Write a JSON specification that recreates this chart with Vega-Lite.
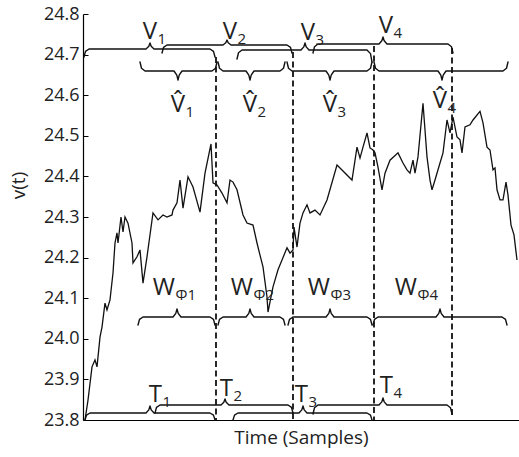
{
  "$schema": "https://vega.github.io/schema/vega-lite/v6.json",
  "width": 436,
  "height": 406,
  "autosize": {"type": "none"},
  "padding": {"left": 83, "top": 14, "right": 0, "bottom": 37},
  "background": "white",
  "config": {
    "view": {"stroke": null},
    "font": "Open Sans",
    "axis": {"grid": false}
  },
  "datasets": {
    "series": [
      {"t":2,"v":23.800},{"t":5,"v":23.849},{"t":9,"v":23.931},{"t":12,"v":23.948},{"t":14,"v":23.931},{"t":17,"v":24.004},{"t":19,"v":24.029},{"t":22,"v":24.088},{"t":24,"v":24.071},{"t":27,"v":24.096},{"t":30,"v":24.162},{"t":32,"v":24.236},{"t":34,"v":24.261},{"t":35,"v":24.236},{"t":38,"v":24.300},{"t":40,"v":24.263},{"t":42,"v":24.300},{"t":45,"v":24.285},{"t":49,"v":24.236},{"t":50,"v":24.187},{"t":54,"v":24.202},{"t":57,"v":24.219},{"t":60,"v":24.137},{"t":64,"v":24.202},{"t":70,"v":24.310},{"t":75,"v":24.293},{"t":80,"v":24.305},{"t":84,"v":24.300},{"t":89,"v":24.305},{"t":90,"v":24.317},{"t":94,"v":24.335},{"t":97,"v":24.391},{"t":100,"v":24.322},{"t":105,"v":24.399},{"t":110,"v":24.374},{"t":117,"v":24.312},{"t":122,"v":24.408},{"t":128,"v":24.480},{"t":130,"v":24.384},{"t":134,"v":24.379},{"t":139,"v":24.359},{"t":144,"v":24.335},{"t":147,"v":24.391},{"t":150,"v":24.386},{"t":154,"v":24.367},{"t":160,"v":24.305},{"t":164,"v":24.285},{"t":170,"v":24.280},{"t":174,"v":24.236},{"t":177,"v":24.206},{"t":180,"v":24.177},{"t":184,"v":24.103},{"t":185,"v":24.066},{"t":190,"v":24.128},{"t":195,"v":24.170},{"t":199,"v":24.194},{"t":204,"v":24.224},{"t":207,"v":24.211},{"t":210,"v":24.219},{"t":211,"v":24.275},{"t":214,"v":24.226},{"t":217,"v":24.285},{"t":220,"v":24.310},{"t":224,"v":24.330},{"t":227,"v":24.310},{"t":232,"v":24.317},{"t":237,"v":24.305},{"t":244,"v":24.342},{"t":254,"v":24.428},{"t":269,"v":24.391},{"t":274,"v":24.472},{"t":277,"v":24.445},{"t":280,"v":24.472},{"t":284,"v":24.507},{"t":287,"v":24.470},{"t":290,"v":24.465},{"t":292,"v":24.458},{"t":295,"v":24.423},{"t":299,"v":24.367},{"t":302,"v":24.408},{"t":307,"v":24.440},{"t":315,"v":24.458},{"t":320,"v":24.433},{"t":324,"v":24.416},{"t":327,"v":24.408},{"t":330,"v":24.440},{"t":332,"v":24.408},{"t":335,"v":24.448},{"t":340,"v":24.580},{"t":344,"v":24.448},{"t":347,"v":24.391},{"t":349,"v":24.367},{"t":352,"v":24.391},{"t":357,"v":24.433},{"t":360,"v":24.458},{"t":364,"v":24.539},{"t":367,"v":24.507},{"t":370,"v":24.546},{"t":374,"v":24.497},{"t":377,"v":24.490},{"t":379,"v":24.458},{"t":382,"v":24.522},{"t":387,"v":24.527},{"t":390,"v":24.539},{"t":397,"v":24.560},{"t":400,"v":24.532},{"t":404,"v":24.472},{"t":407,"v":24.465},{"t":410,"v":24.416},{"t":412,"v":24.421},{"t":414,"v":24.367},{"t":417,"v":24.342},{"t":420,"v":24.342},{"t":423,"v":24.386},{"t":425,"v":24.354},{"t":428,"v":24.280},{"t":431,"v":24.256},{"t":434,"v":24.194}
    ],
    "braces": [
      {"b":"V1","x":1,"y":24.6941},{"b":"V1","x":2.5,"y":24.7079},{"b":"V1","x":6,"y":24.7138},{"b":"V1","x":63,"y":24.7138},{"b":"V1","x":65.8,"y":24.7205},{"b":"V1","x":67,"y":24.7286},{"b":"V1","x":68.2,"y":24.7205},{"b":"V1","x":71,"y":24.7138},{"b":"V1","x":127,"y":24.7138},{"b":"V1","x":130.5,"y":24.7079},{"b":"V1","x":132,"y":24.6941},
      {"b":"V2","x":79,"y":24.7039},{"b":"V2","x":80.5,"y":24.7177},{"b":"V2","x":84,"y":24.7236},{"b":"V2","x":140,"y":24.7236},{"b":"V2","x":142.8,"y":24.7291},{"b":"V2","x":144,"y":24.7359},{"b":"V2","x":145.2,"y":24.7291},{"b":"V2","x":148,"y":24.7236},{"b":"V2","x":204,"y":24.7236},{"b":"V2","x":207.5,"y":24.7177},{"b":"V2","x":209,"y":24.7039},
      {"b":"V3","x":154,"y":24.6891},{"b":"V3","x":155.5,"y":24.7046},{"b":"V3","x":159,"y":24.7113},{"b":"V3","x":218,"y":24.7113},{"b":"V3","x":220.8,"y":24.7191},{"b":"V3","x":222,"y":24.7285},{"b":"V3","x":223.2,"y":24.7191},{"b":"V3","x":226,"y":24.7113},{"b":"V3","x":284,"y":24.7113},{"b":"V3","x":287.5,"y":24.7024},{"b":"V3","x":289,"y":24.6817},
      {"b":"V4","x":230,"y":24.7039},{"b":"V4","x":231.5,"y":24.7194},{"b":"V4","x":235,"y":24.7261},{"b":"V4","x":296,"y":24.7261},{"b":"V4","x":298.8,"y":24.7339},{"b":"V4","x":300,"y":24.7433},{"b":"V4","x":301.2,"y":24.7339},{"b":"V4","x":304,"y":24.7261},{"b":"V4","x":365,"y":24.7261},{"b":"V4","x":368.5,"y":24.7194},{"b":"V4","x":370,"y":24.7039},
      {"b":"H1","x":57,"y":24.6818},{"b":"H1","x":58.5,"y":24.6663},{"b":"H1","x":62,"y":24.6596},{"b":"H1","x":91,"y":24.6596},{"b":"H1","x":93.8,"y":24.6496},{"b":"H1","x":95,"y":24.6374},{"b":"H1","x":96.2,"y":24.6496},{"b":"H1","x":99,"y":24.6596},{"b":"H1","x":129,"y":24.6596},{"b":"H1","x":132.5,"y":24.6663},{"b":"H1","x":134,"y":24.6818},
      {"b":"H2","x":135,"y":24.6818},{"b":"H2","x":136.5,"y":24.6663},{"b":"H2","x":140,"y":24.6596},{"b":"H2","x":163,"y":24.6596},{"b":"H2","x":165.8,"y":24.6496},{"b":"H2","x":167,"y":24.6374},{"b":"H2","x":168.2,"y":24.6496},{"b":"H2","x":171,"y":24.6596},{"b":"H2","x":197,"y":24.6596},{"b":"H2","x":200.5,"y":24.6663},{"b":"H2","x":202,"y":24.6818},
      {"b":"H3","x":204,"y":24.6818},{"b":"H3","x":205.5,"y":24.6663},{"b":"H3","x":209,"y":24.6596},{"b":"H3","x":243,"y":24.6596},{"b":"H3","x":245.8,"y":24.6496},{"b":"H3","x":247,"y":24.6374},{"b":"H3","x":248.2,"y":24.6496},{"b":"H3","x":251,"y":24.6596},{"b":"H3","x":284,"y":24.6596},{"b":"H3","x":287.5,"y":24.6663},{"b":"H3","x":289,"y":24.6818},
      {"b":"H4","x":291,"y":24.6818},{"b":"H4","x":292.5,"y":24.6663},{"b":"H4","x":296,"y":24.6596},{"b":"H4","x":355,"y":24.6596},{"b":"H4","x":357.8,"y":24.6496},{"b":"H4","x":359,"y":24.6374},{"b":"H4","x":360.2,"y":24.6496},{"b":"H4","x":363,"y":24.6596},{"b":"H4","x":420,"y":24.6596},{"b":"H4","x":423.5,"y":24.6663},{"b":"H4","x":425,"y":24.6818},
      {"b":"W1","x":55,"y":24.0340},{"b":"W1","x":56.5,"y":24.0478},{"b":"W1","x":60,"y":24.0537},{"b":"W1","x":90,"y":24.0537},{"b":"W1","x":92.8,"y":24.0626},{"b":"W1","x":94,"y":24.0734},{"b":"W1","x":95.2,"y":24.0626},{"b":"W1","x":98,"y":24.0537},{"b":"W1","x":127,"y":24.0537},{"b":"W1","x":130.5,"y":24.0478},{"b":"W1","x":132,"y":24.0340},
      {"b":"W2","x":135,"y":24.0340},{"b":"W2","x":136.5,"y":24.0478},{"b":"W2","x":140,"y":24.0537},{"b":"W2","x":163,"y":24.0537},{"b":"W2","x":165.8,"y":24.0626},{"b":"W2","x":167,"y":24.0734},{"b":"W2","x":168.2,"y":24.0626},{"b":"W2","x":171,"y":24.0537},{"b":"W2","x":197,"y":24.0537},{"b":"W2","x":200.5,"y":24.0478},{"b":"W2","x":202,"y":24.0340},
      {"b":"W3","x":205,"y":24.0340},{"b":"W3","x":206.5,"y":24.0478},{"b":"W3","x":210,"y":24.0537},{"b":"W3","x":243,"y":24.0537},{"b":"W3","x":245.8,"y":24.0626},{"b":"W3","x":247,"y":24.0734},{"b":"W3","x":248.2,"y":24.0626},{"b":"W3","x":251,"y":24.0537},{"b":"W3","x":284,"y":24.0537},{"b":"W3","x":287.5,"y":24.0478},{"b":"W3","x":289,"y":24.0340},
      {"b":"W4","x":290,"y":24.0340},{"b":"W4","x":291.5,"y":24.0478},{"b":"W4","x":295,"y":24.0537},{"b":"W4","x":353,"y":24.0537},{"b":"W4","x":355.8,"y":24.0626},{"b":"W4","x":357,"y":24.0734},{"b":"W4","x":358.2,"y":24.0626},{"b":"W4","x":361,"y":24.0537},{"b":"W4","x":419,"y":24.0537},{"b":"W4","x":422.5,"y":24.0478},{"b":"W4","x":424,"y":24.0340},
      {"b":"T1","x":2,"y":23.8000},{"b":"T1","x":3.5,"y":23.8120},{"b":"T1","x":7,"y":23.8172},{"b":"T1","x":63,"y":23.8172},{"b":"T1","x":65.8,"y":23.8250},{"b":"T1","x":67,"y":23.8344},{"b":"T1","x":68.2,"y":23.8250},{"b":"T1","x":71,"y":23.8172},{"b":"T1","x":127,"y":23.8172},{"b":"T1","x":130.5,"y":23.8120},{"b":"T1","x":132,"y":23.8000},
      {"b":"T2","x":72,"y":23.8172},{"b":"T2","x":73.5,"y":23.8310},{"b":"T2","x":77,"y":23.8369},{"b":"T2","x":138,"y":23.8369},{"b":"T2","x":140.8,"y":23.8436},{"b":"T2","x":142,"y":23.8517},{"b":"T2","x":143.2,"y":23.8436},{"b":"T2","x":146,"y":23.8369},{"b":"T2","x":205,"y":23.8369},{"b":"T2","x":208.5,"y":23.8310},{"b":"T2","x":210,"y":23.8172},
      {"b":"T3","x":150,"y":23.8000},{"b":"T3","x":151.5,"y":23.8120},{"b":"T3","x":155,"y":23.8172},{"b":"T3","x":216,"y":23.8172},{"b":"T3","x":218.8,"y":23.8250},{"b":"T3","x":220,"y":23.8344},{"b":"T3","x":221.2,"y":23.8250},{"b":"T3","x":224,"y":23.8172},{"b":"T3","x":284,"y":23.8172},{"b":"T3","x":287.5,"y":23.8120},{"b":"T3","x":289,"y":23.8000},
      {"b":"T4","x":230,"y":23.8147},{"b":"T4","x":231.5,"y":23.8302},{"b":"T4","x":235,"y":23.8369},{"b":"T4","x":296,"y":23.8369},{"b":"T4","x":298.8,"y":23.8447},{"b":"T4","x":300,"y":23.8541},{"b":"T4","x":301.2,"y":23.8447},{"b":"T4","x":304,"y":23.8369},{"b":"T4","x":364,"y":23.8369},{"b":"T4","x":367.5,"y":23.8302},{"b":"T4","x":369,"y":23.8147}
    ],
    "dashes": [
      {"x":133,"y":24.6941,"y2":23.8},
      {"x":210,"y":24.7064,"y2":23.8},
      {"x":291,"y":24.7212,"y2":23.8},
      {"x":369,"y":24.7163,"y2":23.8074}
    ],
    "labels": [
      {"x":74,"y":24.7384,"main":"V","sub":"1"},
      {"x":154,"y":24.7384,"main":"V","sub":"2"},
      {"x":232,"y":24.7360,"main":"V","sub":"3"},
      {"x":310,"y":24.7532,"main":"V","sub":"4"},
      {"x":102,"y":24.5586,"main":"V̂","sub":"1"},
      {"x":174,"y":24.5586,"main":"V̂","sub":"2"},
      {"x":254,"y":24.5586,"main":"V̂","sub":"3"},
      {"x":364,"y":24.5685,"main":"V̂","sub":"4"},
      {"x":92,"y":24.1079,"main":"W","sub":"Φ1"},
      {"x":170,"y":24.1079,"main":"W","sub":"Φ2"},
      {"x":247,"y":24.1079,"main":"W","sub":"Φ3"},
      {"x":334,"y":24.1079,"main":"W","sub":"Φ4"},
      {"x":79,"y":23.8443,"main":"T","sub":"1"},
      {"x":150,"y":23.8591,"main":"T","sub":"2"},
      {"x":225,"y":23.8443,"main":"T","sub":"3"},
      {"x":310,"y":23.8665,"main":"T","sub":"4"}
    ]
  },
  "layer": [
    {
      "data": {"name": "series"},
      "mark": {"type": "line", "color": "#111111", "strokeWidth": 1.3, "strokeJoin": "miter"},
      "encoding": {
        "x": {
          "field": "t", "type": "quantitative",
          "scale": {"domain": [0, 436], "nice": false, "zero": false},
          "axis": {
            "title": "Time (Samples)", "titleFont": "Open Sans", "titleFontSize": 19, "titleFontWeight": "normal",
            "titleColor": "#222222", "titlePadding": 8,
            "labels": false, "ticks": false, "domainColor": "#000000", "domainWidth": 1.2
          }
        },
        "y": {
          "field": "v", "type": "quantitative",
          "scale": {"domain": [23.8, 24.8], "nice": false, "zero": false},
          "axis": {
            "title": "v(t)", "titleFont": "Open Sans", "titleFontSize": 19, "titleFontWeight": "normal",
            "titleColor": "#222222", "titleX": -55, "titleY": 171,
            "values": [23.8, 23.9, 24.0, 24.1, 24.2, 24.3, 24.4, 24.5, 24.6, 24.7, 24.8],
            "format": ".1f", "labelFont": "Open Sans", "labelFontSize": 18, "labelColor": "#222222",
            "tickSize": -5, "labelPadding": 9, "tickColor": "#000000", "domainColor": "#000000", "domainWidth": 1.2
          }
        }
      }
    },
    {
      "data": {"name": "braces"},
      "mark": {"type": "line", "color": "#111111", "strokeWidth": 1.4, "strokeJoin": "round", "strokeCap": "round"},
      "encoding": {
        "x": {"field": "x", "type": "quantitative"},
        "y": {"field": "y", "type": "quantitative"},
        "detail": {"field": "b"}
      }
    },
    {
      "data": {"name": "dashes"},
      "mark": {"type": "rule", "color": "#111111", "strokeWidth": 1.8, "strokeDash": [6, 3.5]},
      "encoding": {
        "x": {"field": "x", "type": "quantitative"},
        "y": {"field": "y", "type": "quantitative"},
        "y2": {"field": "y2"}
      }
    },
    {
      "data": {"name": "labels"},
      "mark": {"type": "text", "align": "right", "baseline": "alphabetic", "font": "Open Sans", "fontSize": 24, "color": "#222222"},
      "encoding": {
        "x": {"field": "x", "type": "quantitative"},
        "y": {"field": "y", "type": "quantitative"},
        "text": {"field": "main"}
      }
    },
    {
      "data": {"name": "labels"},
      "mark": {"type": "text", "align": "left", "baseline": "alphabetic", "font": "Open Sans", "fontSize": 15, "dx": 0.5, "dy": 5, "color": "#222222"},
      "encoding": {
        "x": {"field": "x", "type": "quantitative"},
        "y": {"field": "y", "type": "quantitative"},
        "text": {"field": "sub"}
      }
    }
  ]
}
